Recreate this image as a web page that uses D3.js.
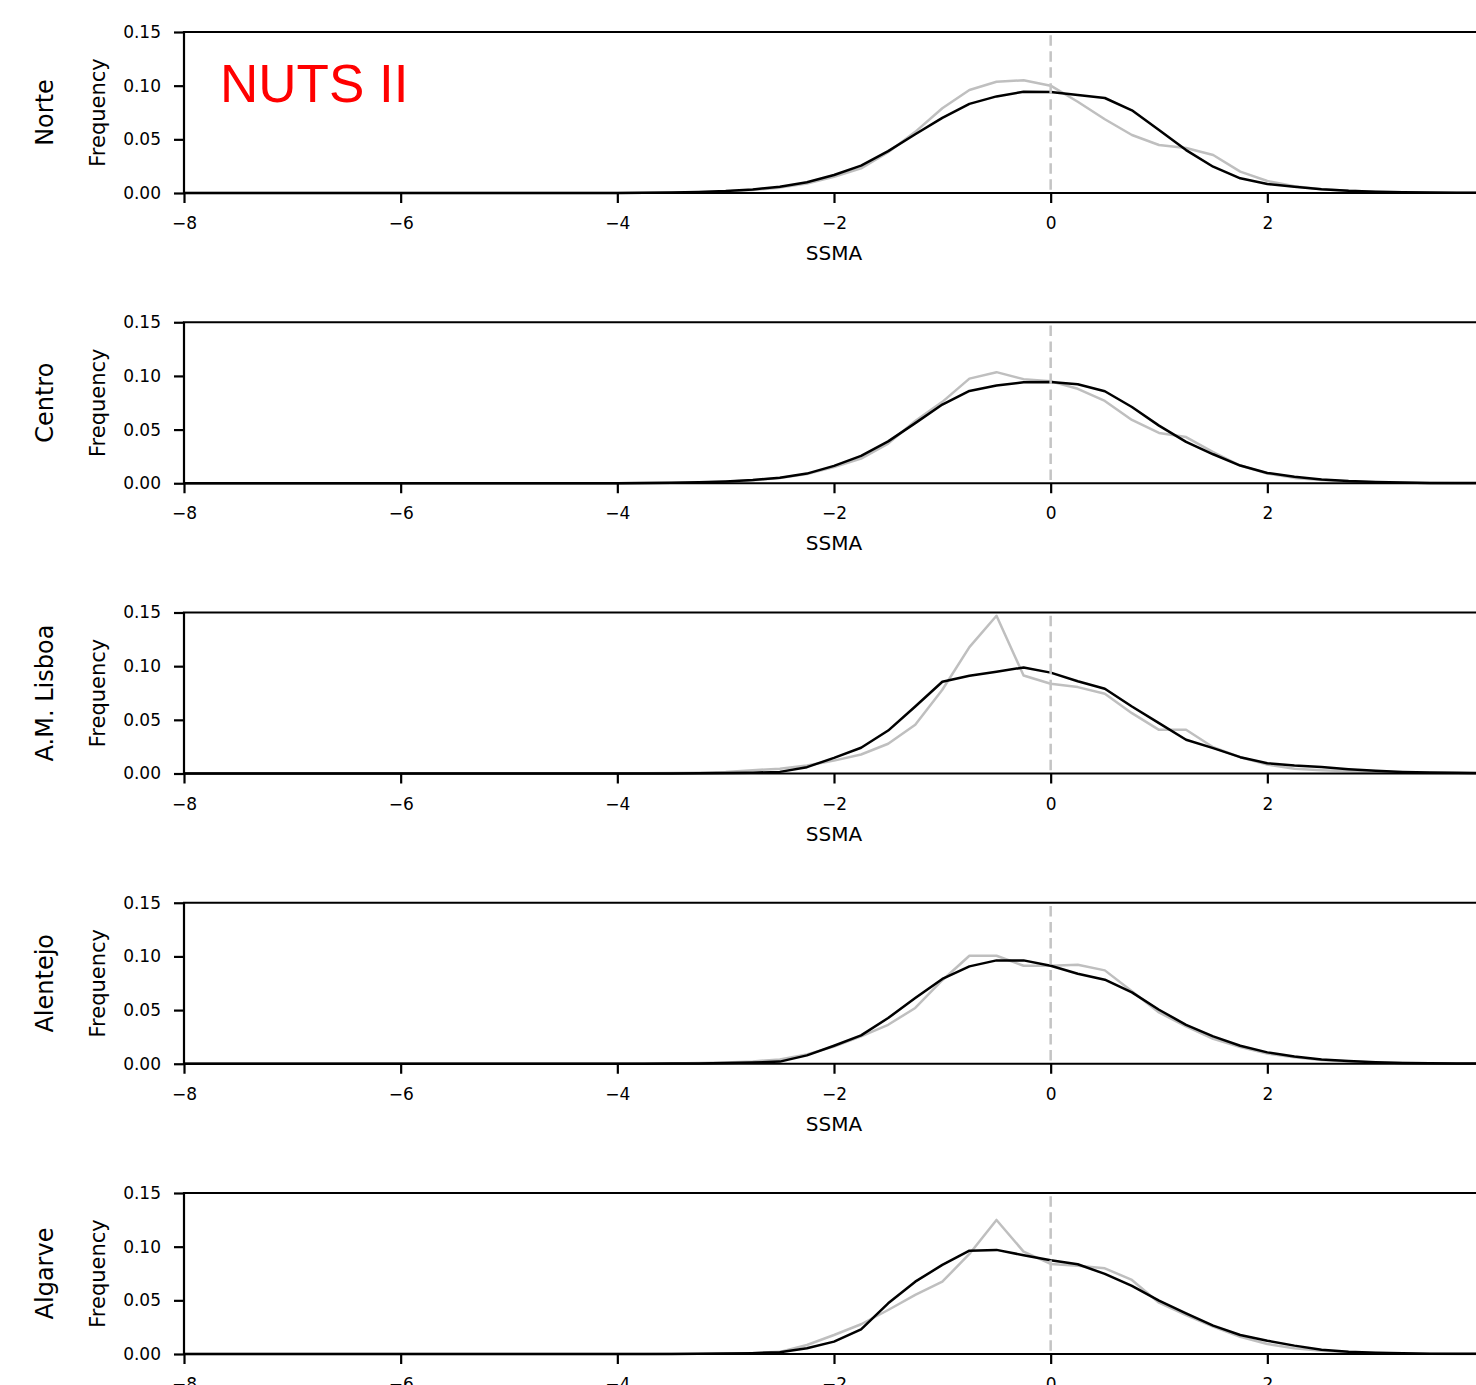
<!DOCTYPE html>
<html>
<head>
<meta charset="utf-8">
<script src="https://cdn.jsdelivr.net/npm/d3@7"></script>
<style>
  html, body { margin: 0; padding: 0; background: #fff; }
  svg { display: block; }
</style>
</head>
<body>
<svg id="chart" width="1476" height="1385"></svg>
<script>
// SSMA bin centres (step 0.25)
const ssma = [
  -8, -7.75, -7.5, -7.25, -7, -6.75, -6.5, -6.25, -6, -5.75, -5.5, -5.25, -5, -4.75, -4.5, -4.25,
  -4, -3.75, -3.5, -3.25, -3, -2.75, -2.5, -2.25, -2, -1.75, -1.5, -1.25, -1, -0.75, -0.5, -0.25,
  0, 0.25, 0.5, 0.75, 1, 1.25, 1.5, 1.75, 2, 2.25, 2.5, 2.75, 3, 3.25, 3.5, 3.75, 4
];

const regions = ["Norte", "Centro", "A.M. Lisboa", "Alentejo", "Algarve"];

// black line per region
const norteBlack = [0,0,0,0,0,0,0,0,0,0,0,0,0,0,0,0,
  0.0001, 0.0002, 0.0005, 0.001, 0.0018, 0.0033, 0.0058, 0.010, 0.0168, 0.0255, 0.039, 0.0547, 0.070, 0.083, 0.090, 0.0944,
  0.094, 0.0913, 0.0885, 0.077, 0.0587, 0.040, 0.0245, 0.0137, 0.0084, 0.0059, 0.0035, 0.002, 0.0012, 0.0007, 0.0004, 0.0002, 0.0001];
const centroBlack = [0,0,0,0,0,0,0,0,0,0,0,0,0,0,0,0,
  0.0001, 0.0002, 0.0004, 0.0009, 0.0017, 0.003, 0.0052, 0.009, 0.0162, 0.0255, 0.039, 0.056, 0.0733, 0.086, 0.091, 0.094,
  0.0944, 0.0923, 0.0857, 0.071, 0.0537, 0.0385, 0.027, 0.0165, 0.0096, 0.006, 0.0036, 0.002, 0.0011, 0.0006, 0.0003, 0.0002, 0.0001];
const lisboaBlack = [0,0,0,0,0,0,0,0,0,0,0,0,0,0,0,0,
  0, 0.0001, 0.0001, 0.0002, 0.0004, 0.0008, 0.0015, 0.0059, 0.0146, 0.024, 0.040, 0.0624, 0.0855, 0.091, 0.0948, 0.0988,
  0.094, 0.086, 0.079, 0.0624, 0.0469, 0.0314, 0.0236, 0.0152, 0.0096, 0.0075, 0.006, 0.004, 0.0025, 0.0015, 0.001, 0.0006, 0.0003];
const alentejoBlack = [0,0,0,0,0,0,0,0,0,0,0,0,0,0,0,0,
  0.0001, 0.0001, 0.0002, 0.0003, 0.0006, 0.0011, 0.002, 0.0078, 0.0168, 0.0264, 0.0426, 0.0612, 0.079, 0.0907, 0.0963, 0.0963,
  0.0913, 0.0839, 0.0783, 0.0665, 0.0503, 0.0363, 0.0255, 0.0168, 0.0106, 0.0068, 0.004, 0.0025, 0.0015, 0.0008, 0.0004, 0.0002, 0.0001];
const algarveBlack = [0,0,0,0,0,0,0,0,0,0,0,0,0,0,0,0,
  0, 0.0001, 0.0001, 0.0002, 0.0004, 0.0008, 0.0016, 0.0053, 0.0115, 0.023, 0.0472, 0.0674, 0.083, 0.0963, 0.097, 0.092,
  0.0873, 0.0836, 0.0746, 0.0634, 0.0497, 0.0379, 0.0264, 0.0177, 0.0124, 0.0078, 0.004, 0.002, 0.0012, 0.0006, 0.0003, 0.0002, 0.0001];

// grey line per region
const norteGrey = [0,0,0,0,0,0,0,0,0,0,0,0,0,0,0,0,
  0.0001, 0.0002, 0.0004, 0.0008, 0.0015, 0.0028, 0.005, 0.0088, 0.015, 0.023, 0.038, 0.057, 0.079, 0.096, 0.1037, 0.105,
  0.100, 0.085, 0.0687, 0.054, 0.0447, 0.042, 0.0354, 0.0199, 0.0112, 0.0062, 0.0035, 0.002, 0.0011, 0.0006, 0.0003, 0.0002, 0.0001];
const centroGrey = [0,0,0,0,0,0,0,0,0,0,0,0,0,0,0,0,
  0.0001, 0.0002, 0.0004, 0.0008, 0.0015, 0.0027, 0.0048, 0.0085, 0.015, 0.023, 0.037, 0.058, 0.0758, 0.0975, 0.1035, 0.097,
  0.095, 0.088, 0.0767, 0.059, 0.0469, 0.043, 0.029, 0.0165, 0.009, 0.005, 0.003, 0.0017, 0.001, 0.0005, 0.0003, 0.0001, 0.0001];
const lisboaGrey = [0,0,0,0,0,0,0,0,0,0,0,0,0,0,0,0,
  0.0001, 0.0002, 0.0004, 0.0008, 0.0015, 0.003, 0.0045, 0.0075, 0.012, 0.0177, 0.0277, 0.0454, 0.078, 0.1177, 0.147, 0.0913,
  0.0836, 0.0805, 0.0743, 0.0562, 0.0407, 0.0407, 0.0245, 0.0152, 0.0084, 0.0044, 0.003, 0.002, 0.0012, 0.0007, 0.0004, 0.0002, 0.0001];
const alentejoGrey = [0,0,0,0,0,0,0,0,0,0,0,0,0,0,0,0,
  0.0001, 0.0002, 0.0003, 0.0006, 0.0012, 0.0022, 0.004, 0.0087, 0.016, 0.0255, 0.0363, 0.052, 0.0778, 0.1006, 0.1006, 0.0913,
  0.0913, 0.0923, 0.087, 0.0675, 0.0478, 0.0348, 0.0233, 0.0155, 0.0095, 0.006, 0.0035, 0.002, 0.0012, 0.0007, 0.0004, 0.0002, 0.0001];
const algarveGrey = [0,0,0,0,0,0,0,0,0,0,0,0,0,0,0,0,
  0.0001, 0.0001, 0.0002, 0.0003, 0.0006, 0.001, 0.002, 0.0084, 0.0177, 0.0277, 0.041, 0.055, 0.0674, 0.0932, 0.1249, 0.0954,
  0.0839, 0.0823, 0.0798, 0.069, 0.0478, 0.0363, 0.0255, 0.0161, 0.0093, 0.0053, 0.003, 0.0017, 0.001, 0.0005, 0.0003, 0.0001, 0.0001];

const blackSeries = [norteBlack, centroBlack, lisboaBlack, alentejoBlack, algarveBlack];
const greySeries = [norteGrey, centroGrey, lisboaGrey, alentejoGrey, algarveGrey];

const xTicks = [-8, -6, -4, -2, 0, 2];
const yTicks = [0, 0.05, 0.10, 0.15];
const title = "NUTS II";

// layout
const left = 184, right = 1484;
const panelH = 161, firstTop = 32, panelStep = 290.25;
const tickFont = "'DejaVu Sans', sans-serif";

const svg = d3.select("#chart");

const x = d3.scaleLinear().domain([-8, 4]).range([left, right]);

regions.forEach(function(name, i) {
    const top = firstTop + i * panelStep;
    const y = d3.scaleLinear().domain([0, 0.15]).range([top + panelH, top]);
    const g = svg.append("g");

    // lines: grey first, black on top
    const line = d3.line()
        .x(function(d) { return x(d[0]); })
        .y(function(d) { return y(d[1]); });

    g.append("path")
        .datum(d3.zip(ssma, greySeries[i]))
        .attr("d", line)
        .attr("fill", "none")
        .attr("stroke", "#bfbfbf")
        .attr("stroke-width", 2.5)
        .attr("stroke-linejoin", "round");

    g.append("path")
        .datum(d3.zip(ssma, blackSeries[i]))
        .attr("d", line)
        .attr("fill", "none")
        .attr("stroke", "#000")
        .attr("stroke-width", 2.5)
        .attr("stroke-linejoin", "round");

    // vertical dashed line at 0
    g.append("line")
        .attr("x1", x(0)).attr("x2", x(0))
        .attr("y1", y(0.147)).attr("y2", y(0))
        .attr("stroke", "#c4c4c4")
        .attr("stroke-width", 2.5)
        .attr("stroke-dasharray", "10.5,5.5");

    // axes
    const xAxis = d3.axisBottom(x).tickValues(xTicks).tickSize(10).tickPadding(14).tickSizeOuter(0);
    const gx = g.append("g")
        .attr("transform", "translate(0," + (top + panelH) + ")")
        .call(xAxis);
    gx.select(".domain").remove();

    const yAxis = d3.axisLeft(y).tickValues(yTicks).tickFormat(d3.format(".2f"))
        .tickSize(10).tickPadding(13).tickSizeOuter(0);
    const gy = g.append("g")
        .attr("transform", "translate(" + left + ",0)")
        .call(yAxis);
    gy.select(".domain").remove();

    [gx, gy].forEach(function(a) {
        a.selectAll("line").attr("stroke", "#000").attr("stroke-width", 2.2);
        a.selectAll("text").attr("fill", "#000")
            .style("font-family", tickFont).style("font-size", "17px");
    });

    // spines: left, top, bottom
    g.append("path")
        .attr("d", "M" + right + "," + top + "H" + left + "V" + (top + panelH) + "H" + right)
        .attr("fill", "none")
        .attr("stroke", "#000")
        .attr("stroke-width", 2.2);

    // labels
    g.append("text")
        .attr("x", (left + right) / 2)
        .attr("y", top + panelH + 67)
        .attr("text-anchor", "middle")
        .style("font-family", tickFont)
        .style("font-size", "20px")
        .text("SSMA");

    const midY = top + panelH / 2;
    g.append("text")
        .attr("transform", "translate(105," + midY + ") rotate(-90)")
        .attr("text-anchor", "middle")
        .style("font-family", tickFont)
        .style("font-size", "21px")
        .text("Frequency");

    g.append("text")
        .attr("transform", "translate(53," + midY + ") rotate(-90)")
        .attr("text-anchor", "middle")
        .style("font-family", tickFont)
        .style("font-size", "24px")
        .text(name);
});

svg.append("text")
    .attr("x", 220)
    .attr("y", 101.5)
    .attr("fill", "#ff0000")
    .style("font-family", "'Liberation Sans', Arial, sans-serif")
    .style("font-size", "53px")
    .text(title);
</script>
</body>
</html>
